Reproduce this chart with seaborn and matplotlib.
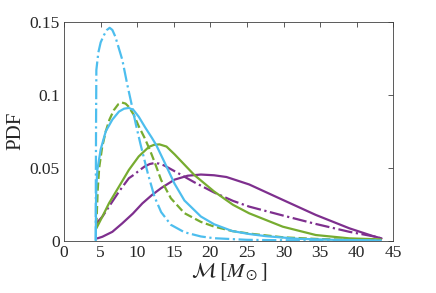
import matplotlib
matplotlib.use("Agg")
import matplotlib.pyplot as plt
import seaborn as sns

# chirp mass PDFs
cyan_solid_x = [4.33, 4.36, 4.41, 4.55, 5.0, 5.7, 6.6, 7.5, 8.2, 8.86, 9.5, 10.2, 11.1, 12.0,
                12.6, 13.7, 15.1, 16.45, 18.7, 20.5, 23.0, 25.3, 27.6, 32.0, 37.0, 43.3]
cyan_solid_y = [0.0, 0.025, 0.037, 0.0485, 0.0625, 0.075, 0.083, 0.0885, 0.0905, 0.091,
                0.0895, 0.085, 0.0775, 0.0705, 0.0655, 0.054, 0.039, 0.0275, 0.0165, 0.0112,
                0.0065, 0.0045, 0.003, 0.0012, 0.0005, 0.0]

cyan_dd_x = [4.33, 4.34, 4.37, 4.41, 4.68, 5.0, 5.45, 5.85, 6.23, 6.6, 7.0, 7.96, 8.64, 9.25,
             9.8, 10.45, 11.45, 12.36, 13.27, 14.6, 16.45, 18.7, 20.5, 25.0, 30.0, 43.3]
cyan_dd_y = [0.0, 0.04, 0.08, 0.117, 0.129, 0.136, 0.141, 0.1445, 0.146, 0.1445, 0.140,
             0.124, 0.107, 0.093, 0.08, 0.066, 0.046, 0.030, 0.0195, 0.0108, 0.0057, 0.0028,
             0.0016, 0.0005, 0.0002, 0.0]

green_solid_x = [4.41, 5.23, 6.14, 7.5, 8.86, 10.2, 11.6, 12.3, 13.05, 14.0, 15.1, 17.8, 20.5,
                 23.1, 25.3, 29.9, 34.4, 39.0, 43.3]
green_solid_y = [0.0084, 0.0164, 0.0256, 0.037, 0.0485, 0.0577, 0.0643, 0.0657, 0.066, 0.0645,
                 0.0592, 0.045, 0.0337, 0.0245, 0.0187, 0.0095, 0.0038, 0.0015, 0.0008]

green_dash_x = [4.41, 4.6, 4.8, 5.2, 5.7, 6.2, 6.8, 7.4, 7.9, 8.4, 8.8, 9.5, 10.2, 11.0, 11.7,
                12.36, 13.27, 14.6, 16.45, 18.7, 20.5, 23.0, 25.3, 30.0, 35.0, 40.0, 43.3]
green_dash_y = [0.01, 0.035, 0.05, 0.064, 0.075, 0.083, 0.0895, 0.0935, 0.0947, 0.094, 0.092,
                0.0865, 0.0785, 0.0705, 0.0625, 0.054, 0.0415, 0.029, 0.0188, 0.0128, 0.0096,
                0.0065, 0.0048, 0.0022, 0.001, 0.0004, 0.0002]

purple_solid_x = [4.55, 5.23, 6.6, 7.95, 9.4, 10.7, 12.0, 13.27, 15.1, 16.9, 18.7, 20.5,
                  22.2, 25.3, 29.9, 34.4, 39.0, 42.2, 43.4]
purple_solid_y = [0.0015, 0.0026, 0.006, 0.0118, 0.0185, 0.0255, 0.0312, 0.036, 0.0418,
                  0.0445, 0.0453, 0.0448, 0.0436, 0.0385, 0.0279, 0.0176, 0.0084, 0.0031,
                  0.0015]

purple_dd_x = [4.41, 5.23, 6.14, 7.5, 8.86, 9.64, 10.2, 11.0, 11.7, 12.36, 13.0, 13.7, 15.5,
               17.8, 20.5, 23.1, 25.3, 29.9, 34.4, 39.0, 42.6, 43.3]
purple_dd_y = [0.0118, 0.0164, 0.0233, 0.0336, 0.0428, 0.0455, 0.0478, 0.0508, 0.0525,
               0.0532, 0.0528, 0.0515, 0.0465, 0.040, 0.033, 0.0272, 0.0233, 0.0172, 0.0114,
               0.006, 0.0026, 0.0015]

x_ticks = [0, 5, 10, 15, 20, 25, 30, 35, 40, 45]
y_ticks = [0, 0.05, 0.1, 0.15]

CYAN = "#4DBEEE"
GREEN = "#77AC30"
PURPLE = "#7E2F8E"

sns.set_theme(style="white")
plt.rcParams["font.family"] = ["Liberation Serif", "DejaVu Serif"]
plt.rcParams["mathtext.fontset"] = "stix"

fig = plt.figure(figsize=(4.36, 2.93), dpi=100)
ax = fig.add_axes([0.147, 0.179, 0.755, 0.746])

curves = [
    (purple_solid_x, purple_solid_y, PURPLE, "-"),
    (purple_dd_x, purple_dd_y, PURPLE, "-."),
    (green_solid_x, green_solid_y, GREEN, "-"),
    (green_dash_x, green_dash_y, GREEN, "--"),
    (cyan_dd_x, cyan_dd_y, CYAN, "-."),
    (cyan_solid_x, cyan_solid_y, CYAN, "-"),
]
for xs, ys, col, ls in curves:
    sns.lineplot(x=xs, y=ys, ax=ax, color=col, linestyle=ls, linewidth=1.6)

ax.set_xlim(0, 45)
ax.set_ylim(0, 0.15)
ax.set_xticks(x_ticks)
ax.set_yticks(y_ticks)
ax.set_xticklabels([f"{v:g}" for v in x_ticks])
ax.set_yticklabels([f"{v:g}" for v in y_ticks])
ax.tick_params(direction="in", top=True, right=True, length=3.5, width=0.6,
               color="#404040", labelsize=12.5, pad=3)
for sp in ax.spines.values():
    sp.set_color("#404040")
    sp.set_linewidth(0.6)

ax.set_xlabel(r"$\mathcal{M}\;[M_\odot]$", fontsize=15, labelpad=0)
ax.set_ylabel("PDF", fontsize=15, labelpad=3)

fig.savefig("out.png", dpi=100)
